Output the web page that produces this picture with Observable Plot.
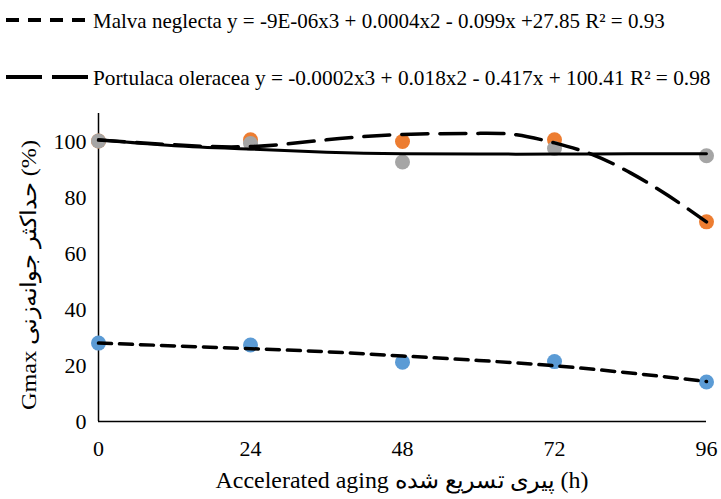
<!DOCTYPE html>
<html><head><meta charset="utf-8">
<script src="https://cdn.jsdelivr.net/npm/d3@7"></script>
<script src="https://cdn.jsdelivr.net/npm/@observablehq/plot@0.6"></script>
<style>
body{margin:0;background:#fff;width:721px;height:499px;overflow:hidden;font-family:"Times New Roman","Liberation Serif","DejaVu Serif",serif;}
#legend{height:100px;}
#legend svg, #chart svg{display:block;overflow:visible;}
</style></head><body>
<div id="legend"></div>
<div id="chart"></div>
<script>
// observed points
const hours = [0, 24, 48, 72, 96];
const malvaObs = [28.0, 27.3, 21.2, 21.4, 14.1];
const portulacaObs = [100.2, 100.6, 100.0, 100.6, 71.3];
const thirdObs = [100.2, 99.3, 92.7, 97.5, 94.9];
// trend lines
const malvaTrendHours = [0, 12, 24, 36, 48, 60, 72, 84, 96];
const malvaTrend = [28.0, 27.0, 26.0, 24.9, 23.4, 21.8, 19.9, 17.3, 14.3];
const portTrendHours = [0, 12, 24, 36, 48, 60, 66, 72, 78, 84, 90, 96];
const portTrend = [100.5, 98.8, 98.2, 100.6, 102.5, 102.9, 102.4, 99.5, 95.3, 88.8, 80.6, 71.3];
const solidTrendHours = [0, 12, 24, 36, 48, 60, 72, 84, 96];
const solidTrend = [100.6, 98.5, 97.3, 96.2, 95.6, 95.5, 95.5, 95.6, 95.6];
const yTicks = [0, 20, 40, 60, 80, 100];
const legendLabels = [
  "Malva neglecta y = -9E-06x3 + 0.0004x2 - 0.099x +27.85 R² = 0.93",
  "Portulaca oleracea y = -0.0002x3 + 0.018x2 - 0.417x + 100.41 R² = 0.98"
];
const xTitle = "Accelerated aging پیری تسریع شده (h)";
const yTitle = "Gmax حداکثر جوانه‌زنی (%)";

const FONT = '"Times New Roman","Liberation Serif","DejaVu Serif",serif';
const colors = {malva: "#5B9BD5", port: "#ED7D31", third: "#A5A5A5"};
const dashShort = "13,8";
const dashLong = "26,12";

// fit a text element to a target width with a horizontal scale about (ax, ay)
function fitText(sel, ax, ay, rot, target, fallbackLen) {
  let len = 0;
  try { len = sel.node().getComputedTextLength(); } catch (e) { len = 0; }
  if (!len) len = fallbackLen;
  const s = target / len;
  sel.attr("transform", `translate(${ax},${ay}) rotate(${rot}) scale(${s},1)`);
}

// legend
const lg = d3.select("#legend").append("svg").attr("width", 721).attr("height", 100);
const rows = [
  {y: 20, dash: "13,9", label: legendLabels[0], len: 572},
  {y: 77, dash: "36,10", label: legendLabels[1], len: 618}
];
rows.forEach(r => {
  lg.append("line").attr("x1", 6).attr("x2", 89).attr("y1", r.y).attr("y2", r.y)
    .attr("stroke", "#000").attr("stroke-width", 4).attr("stroke-dasharray", r.dash);
  const t = lg.append("text").attr("x", 0).attr("y", 0).attr("dy", "0.35em")
    .style("font-family", FONT).attr("font-size", 22)
    .attr("fill", "#000").text(r.label);
  fitText(t, 93, r.y, 0, r.len, 640);
});

const pts = (ys) => hours.map((h, i) => ({x: h, y: ys[i]}));
const tr = (xs, ys) => xs.map((h, i) => ({x: h, y: ys[i]}));

const W = 721, H = 399, mT = 13, mB = 78, mL = 98, mR = 15;
const chart = Plot.plot({
  width: W,
  height: H,
  marginTop: mT,
  marginBottom: mB,
  marginLeft: mL,
  marginRight: mR,
  style: {fontFamily: FONT, fontSize: "22px", color: "#000", background: "#fff", overflow: "visible"},
  x: {domain: [0, 96], ticks: hours, tickSize: 0, label: null},
  y: {domain: [0, 110], ticks: yTicks, tickSize: 0, label: null},
  marks: [
    Plot.axisX({ticks: hours, tickSize: 0, tickPadding: 19, label: null, fontSize: 22}),
    Plot.axisY({ticks: yTicks, tickSize: 0, tickPadding: 12, label: null, fontSize: 22}),
    Plot.ruleX([0], {y1: 0, y2: 110, stroke: "#000", strokeWidth: 1.5}),
    Plot.ruleY([0], {stroke: "#000", strokeWidth: 1.5}),
    Plot.dot(pts(malvaObs), {x: "x", y: "y", r: 7.5, fill: colors.malva}),
    Plot.dot(pts(portulacaObs), {x: "x", y: "y", r: 7.5, fill: colors.port}),
    Plot.dot(pts(thirdObs), {x: "x", y: "y", r: 7.5, fill: colors.third}),
    Plot.line(tr(malvaTrendHours, malvaTrend), {x: "x", y: "y", curve: "natural", stroke: "#000", strokeWidth: 3.5, strokeDasharray: dashShort}),
    Plot.line(tr(solidTrendHours, solidTrend), {x: "x", y: "y", curve: "natural", stroke: "#000", strokeWidth: 3}),
    Plot.line(tr(portTrendHours, portTrend), {x: "x", y: "y", curve: "natural", stroke: "#000", strokeWidth: 3.5, strokeDasharray: dashLong})
  ]
});
document.getElementById("chart").appendChild(chart);

// axis titles, sized to the reference's measured extent
const svg = d3.select(chart);
function addTitle(label, cx, cy, rot, size, target, fallbackLen) {
  const t = svg.append("text")
    .attr("text-anchor", "middle").attr("dominant-baseline", "central")
    .style("font-family", FONT).attr("font-size", size).attr("fill", "#000")
    .text(label);
  fitText(t, cx, cy, rot, target, fallbackLen);
}
const midX = mL + (W - mL - mR) / 2;
addTitle(xTitle, midX, H - 19, 0, 23, 376, 360);
addTitle(yTitle, 28, 175, -90, 22, 274, 420);
</script>
</body></html>
